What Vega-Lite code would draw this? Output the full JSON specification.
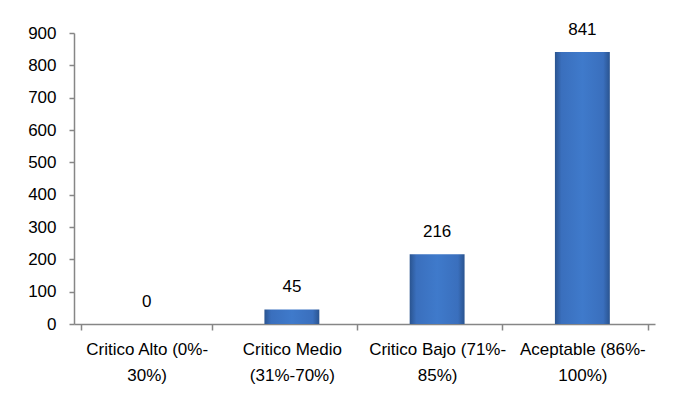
{
  "$schema": "https://vega.github.io/schema/vega-lite/v6.json",
  "width": 581,
  "height": 291,
  "autosize": {"type": "none"},
  "padding": {"left": 74, "top": 33, "right": 19, "bottom": 78},
  "background": "white",
  "title": {
    "text": "(Número de Usuarios)",
    "anchor": "middle",
    "dx": -15,
    "offset": 29,
    "baseline": "alphabetic",
    "font": "Liberation Sans",
    "fontSize": 17,
    "fontWeight": "normal",
    "color": "#000000"
  },
  "config": {
    "view": {"stroke": null},
    "font": "Liberation Sans",
    "axis": {
      "domainColor": "#868686",
      "tickColor": "#868686",
      "domainWidth": 1.5,
      "tickWidth": 1.5,
      "labelColor": "#000000",
      "labelFont": "Liberation Sans",
      "labelFontSize": 17,
      "grid": false,
      "title": null
    }
  },
  "data": {
    "values": [
      {"categoria": "Critico Alto (0%-|30%)", "usuarios": 0},
      {"categoria": "Critico Medio|(31%-70%)", "usuarios": 45},
      {"categoria": "Critico Bajo (71%-|85%)", "usuarios": 216},
      {"categoria": "Aceptable (86%-|100%)", "usuarios": 841}
    ]
  },
  "encoding": {
    "x": {
      "field": "categoria",
      "type": "nominal",
      "sort": null,
      "axis": {
        "labelAngle": 0,
        "labelExpr": "split(datum.label, '|')",
        "labelBaseline": "top",
        "labelPadding": 11,
        "labelLineHeight": 26,
        "tickBand": "extent",
        "tickSize": 6,
        "labelLimit": 200
      }
    },
    "y": {
      "field": "usuarios",
      "type": "quantitative",
      "scale": {"domain": [0, 900], "nice": false},
      "axis": {
        "values": [0, 100, 200, 300, 400, 500, 600, 700, 800, 900],
        "tickSize": 5,
        "labelPadding": 13
      }
    }
  },
  "layer": [
    {
      "mark": {
        "type": "bar",
        "width": {"band": 0.42},
        "color": {
          "gradient": "linear",
          "x1": 0, "y1": 0, "x2": 1, "y2": 0,
          "stops": [
            {"offset": 0, "color": "#2a5490"},
            {"offset": 0.12, "color": "#3a6fbd"},
            {"offset": 0.5, "color": "#3f7acb"},
            {"offset": 0.88, "color": "#3a6fbd"},
            {"offset": 1, "color": "#2a5490"}
          ]
        }
      }
    },
    {
      "mark": {
        "type": "text",
        "dy": -22,
        "baseline": "middle",
        "font": "Liberation Sans",
        "fontSize": 17,
        "color": "#000000"
      },
      "encoding": {
        "text": {"field": "usuarios", "type": "quantitative"}
      }
    }
  ]
}
